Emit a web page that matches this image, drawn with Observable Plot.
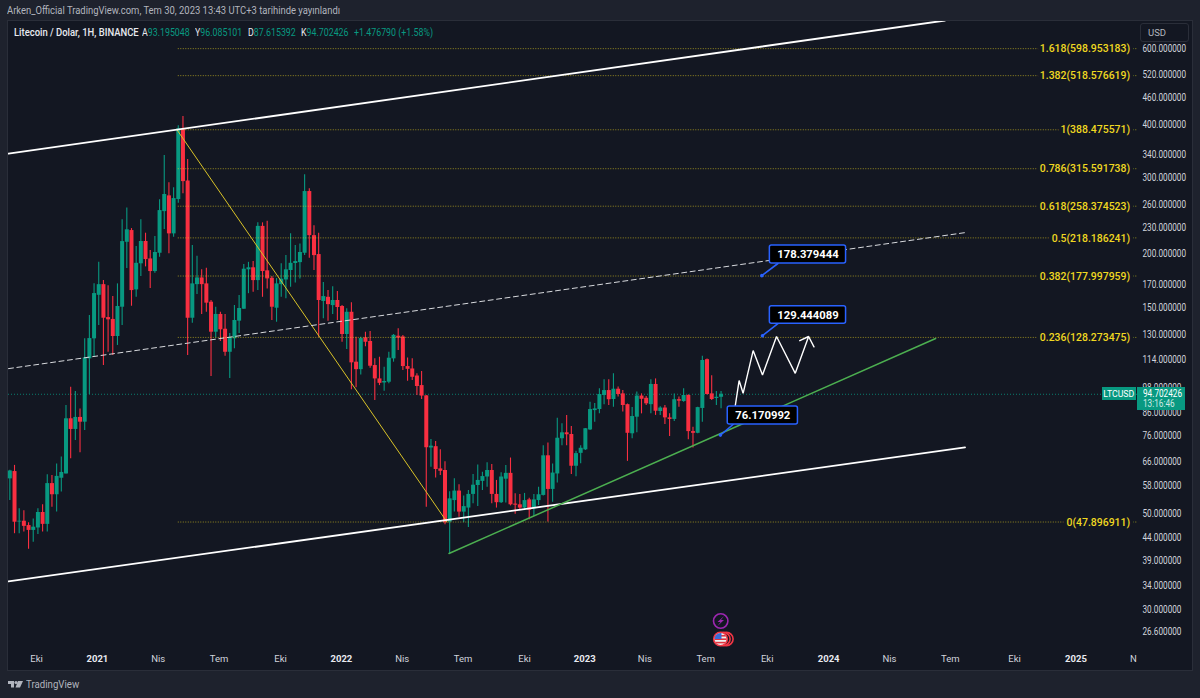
<!DOCTYPE html>
<html><head><meta charset="utf-8">
<script src="https://cdn.jsdelivr.net/npm/d3@7"></script>
<script src="https://cdn.jsdelivr.net/npm/@observablehq/plot@0.6"></script>
<style>
html,body{margin:0;padding:0;background:#1e222d;width:1200px;height:698px;overflow:hidden;font-family:Roboto,"Liberation Sans",sans-serif}
.abs{position:absolute;white-space:nowrap}
.sq{transform-origin:0 50%;transform:scaleX(.84)}
#pane{left:8px;top:21px;width:1184px;height:649px;background:#131722;box-shadow:0 0 0 1px #2a2e39}
#chart{left:0;top:0}
#chart svg{display:block;background:transparent}
.teal{color:#089981}
</style></head><body>
<div id="pane" class="abs"></div>
<div id="chart" class="abs"></div>
<div id="hdr" class="abs" style="left:7px;top:5px;font-size:10px;color:#b2b5be;transform-origin:0 50%;transform:scaleX(.944)">Arken_Official TradingView.com, Tem 30, 2023 13:43 UTC+3 tarihinde yayınlandı</div>
<div class="abs" style="left:14px;top:26px;font-size:10.5px;color:#e8eaf0;font-weight:500;transform-origin:0 50%;transform:scaleX(.9)">Litecoin / Dolar, 1H, BINANCE</div>
<div class="abs sq" style="left:142px;top:26px;font-size:10.5px;color:#e8eaf0">A<span class="teal">93.195048</span></div>
<div class="abs sq" style="left:195px;top:26px;font-size:10.5px;color:#e8eaf0">Y<span class="teal">96.085101</span></div>
<div class="abs sq" style="left:248px;top:26px;font-size:10.5px;color:#e8eaf0">D<span class="teal">87.615392</span></div>
<div class="abs sq" style="left:301px;top:26px;font-size:10.5px;color:#e8eaf0">K<span class="teal">94.702426</span></div>
<div class="abs sq teal" style="left:354px;top:26px;font-size:10.5px">+1.476790 (+1.58%)</div>
<div class="abs" style="left:1140px;top:23px;width:47px;height:17px;border:1px solid #2a2e39;border-radius:3px;font-size:9.5px;line-height:17px;color:#b2b5be;text-indent:7px">USD</div>
<svg class="abs" style="left:0;top:0;pointer-events:none" width="1200" height="698">
  <polygon points="8,681 14,681 14,687.5 11,687.5 11,684 8,684" fill="#b2b5be"/>
  <circle cx="16" cy="682.5" r="1.6" fill="#b2b5be"/>
  <polygon points="18,681 23,681 20,687.5 15.5,687.5" fill="#b2b5be"/>
  <circle cx="720.7" cy="621" r="7.2" fill="#131722" stroke="#9c27b0" stroke-width="1.6"/>
  <polygon points="724,616 717.5,622 720.5,622 717.5,626 724,620 721,620" fill="#9c27b0"/>
  <circle cx="726.5" cy="639" r="6.6" fill="#131722" stroke="#f23645" stroke-width="1.6"/>
  <circle cx="723.5" cy="639" r="6.6" fill="#131722" stroke="#f23645" stroke-width="1.6"/>
  <clipPath id="fc"><circle cx="720.5" cy="639" r="6"/></clipPath>
  <circle cx="720.5" cy="639" r="6.8" fill="#f0f0f0" stroke="#f23645" stroke-width="1.6"/>
  <g clip-path="url(#fc)">
    <rect x="714" y="635" width="13" height="1.6" fill="#e0353f"/>
    <rect x="714" y="638.4" width="13" height="1.6" fill="#e0353f"/>
    <rect x="714" y="641.8" width="13" height="1.6" fill="#e0353f"/>
    <rect x="714" y="632" width="7.5" height="7" fill="#3b6bd6"/>
  </g>
</svg>
<div class="abs" style="left:25.5px;top:677px;font-size:11.5px;color:#b2b5be;transform-origin:0 50%;transform:scaleX(.84)">TradingView</div>
<script>
const opens=[60.3,62.7,47.9,48.1,47.0,45.8,46.4,50.4,47.3,58.8,55.4,60.5,61.9,83.1,78.5,83.7,81.6,114.4,127.3,160.6,
170,142.6,141.2,128.9,150.7,213.1,226.9,165.3,190,214,195,182.3,201,251,273,222.9,267.7,388.8,295.7,142.1,
170,176.2,170.7,154.8,131.9,145,134,118.5,127.3,139.9,149.1,184,186,173.7,232,183,175.9,149.9,170,174.3,
183.3,190.3,191.2,201,279.4,220.8,199.6,155.4,158.9,152,156.2,151.3,130.3,146.7,112.4,108,128,125.5,110.4,102.8,
100.6,101,114.4,129.1,128.6,109.8,108.4,104.4,99.2,93.9,71.1,71.6,63.6,63.05,47.85,53.7,56.5,50.5,51.6,55.5,
58.2,59.5,60.9,63.05,55.5,53.1,60.2,62.1,52.7,52.5,51.6,53.9,51.4,53.7,55.2,68.2,57,61.9,74.7,77.1,
76.4,64.5,69.1,70.4,78.3,86.8,87.3,94.1,96.6,92.1,97.3,94.9,89.6,76.7,83.8,93.8,92.7,89.6,99.8,86.4,
88,83.5,82.8,92,91.1,94.1,77.6,76.9,87.8,113.9,94.9,92.6,93.195];
const closes=[62.9,47.85,48.1,46.8,45.8,46.6,50.4,47.3,58.8,55.4,61.1,62.4,83.1,78.5,83.7,81.6,115,127.5,162.1,170,
142.1,140.9,128.9,151.3,213.9,227.8,164.7,190.5,214,194.3,182.3,201.8,252.4,275,222.9,269.1,390.4,294.6,142.1,170.7,
176.2,170,154,131.9,145,133.6,118.5,128,140.4,149.7,184.6,186,173.7,232,182.3,175.3,150.7,170.7,175,184,
190.5,192.3,201.8,279.4,220.8,198.5,156.2,159.5,152.8,156.2,150.5,130.3,146.7,112,108,127.5,125,110,102.8,100.4,
101.4,114.8,129.7,127.8,109.8,108.2,103.7,98.7,93.8,71.2,71.8,63.4,62.8,47.7,54.2,56.5,50.5,52,55.5,58.3,
59.8,61.05,63.05,55.5,53.1,60.9,62.1,52.5,52.4,51.6,53.7,51,53.9,55.4,68.2,57,62.2,74.9,77.1,76.3,
64.5,69,71,78.8,87.3,87.6,94.6,96.6,92,97.3,94.6,89.2,76.9,84.1,93.8,92.2,90,99.8,86.5,88,
83.5,82.8,92,91.3,94.1,77.6,76.9,88.2,113.4,94.6,92.1,93.2,94.702];
const highs=[63.1,64.8,51.4,50.9,47.7,48.7,51.4,52.5,61.6,61.4,65.3,67.8,89.2,98.3,96.1,87.6,127.3,144.2,170.7,191.5,
173.7,169.1,159.5,170.7,240.2,256,229.3,208.4,240.2,223.7,203.9,219.7,267.3,338.5,293,285,397,417,331.4,209.5,
197.8,184,185.5,156.2,150.7,146.7,145,131,152,160.4,189.2,191.5,192.3,236.4,236.4,238.4,177.5,175.6,190,198.5,
222.9,209.5,211.3,305.5,283.5,232.9,223.7,171.9,164.7,168.2,163.9,152,149.4,154.3,128.4,128.4,131.9,132.4,114.4,115.4,
109.4,118.5,130.3,134.3,129.6,115,114.4,105.6,106.9,94.1,74.4,73.6,70.4,66.1,56.3,60.3,58.4,55,56.7,61.7,
64.9,62.5,65.7,65.1,59.8,62.3,64.8,67.4,55.7,55.5,55.8,54.4,55.5,57.7,72,73,65.3,83.3,80.9,84.6,
79.7,69.9,72,78.9,90.8,90.1,97.5,102.3,102.3,105.6,98.4,96.6,89.9,88.2,95.8,94.9,93.6,102.3,102.8,88.6,
89.2,85.3,94.9,93.3,97.5,94.5,79.4,88.4,116,114.3,104.6,96.1,96.085];
const lows=[53.7,45.0,45.0,45.4,41.4,43.0,44.8,45.4,45.4,51.8,50.5,56.2,61.9,67.1,74.0,69.3,78.05,94.6,115.4,136.7,
110.4,118.5,116.5,122.9,136.7,185.3,151.5,158.9,177.5,186.9,166.5,180.7,196.7,228.1,200.4,218.9,262.5,276,116.5,138.3,
161.2,145,146.7,104.1,127.8,125.5,116,103,120.7,131,149,162,163.2,164.7,158.9,166.2,140.4,139.1,158.9,157.6,
167.6,171.6,175.3,198.5,195.7,183.3,128.4,141.7,139.9,145,140.4,125,120.3,97,98.1,104.9,122,108.8,91.6,99.2,
96.3,100.2,112.4,119.6,107.5,101.5,101.9,94.1,92.1,51.8,64.2,60.6,61.4,47.2,40.5,50.5,49.1,47.7,46.5,52.8,
52,56.7,57.7,52.8,51.6,52.9,53,52.2,49.9,50.9,50.9,48.5,49.3,52.3,55,47.9,53.2,59,72,72,
61.7,61,65.4,70.15,78.05,81.6,85.3,89.6,89.2,88.4,93.3,86.1,66.2,74.7,77.1,85.3,89.2,85.3,84.6,84.6,
80.6,75.6,81.9,88.4,90.8,74.3,71.1,76.7,81.6,94.3,91.6,89.2,87.615];

const fibRatios=["1.618","1.382","1","0.786","0.618","0.5","0.382","0.236","0"];
const fibValues=[598.953183,518.576619,388.475571,315.591738,258.374523,218.186241,177.997959,128.273475,47.896911];

const priceTicks=[600,520,460,400,340,300,260,230,200,170,150,130,114,98,86,76,66,58,50,44,39,34,30,26.6];
const monthDates=["2020-10-03","2021-04-03","2021-07-03","2021-10-03","2022-04-03","2022-07-03","2022-10-03","2023-04-01","2023-07-01","2023-10-01","2024-04-01","2024-07-01","2024-10-05","2025-04-01"];
const monthLabels=["Eki","Nis","Tem","Eki","Nis","Tem","Eki","Nis","Tem","Eki","Nis","Tem","Eki","N"];
const yearDates=["2021-01-02","2022-01-02","2023-01-01","2024-01-01","2025-01-05"];
const yearLabels=["2021","2022","2023","2024","2025"];

const upperDates=["2020-08-22","2024-06-23"], upperPrices=[342,696];
const lowerDates=["2020-08-22","2024-07-23"], lowerPrices=[34.9,71.3];
const midDates=["2020-08-22","2024-07-24"], midPrices=[108.6,224.5];
const fibTrendDates=["2021-05-01","2022-06-09"], fibTrendPrices=[388.475571,47.896911];
const greenDates=["2022-06-12","2024-06-09"], greenPrices=[40.5,127.5];
const pathDates=["2023-08-13","2023-08-20","2023-08-26","2023-09-10","2023-09-24","2023-10-15","2023-11-12","2023-12-02","2023-11-18","2023-12-02","2023-12-10"];
const pathPrices=[86.5,101.9,95.2,119.6,105,128.9,105.9,128.9,125.9,128.9,122];

const calloutLabels=["178.379444","129.444089","76.170992"];
const calloutValues=[178.379444,129.444089,76.170992];
const calloutTipDates=["2023-09-23","2023-09-24","2023-07-23"];
const calloutBaseDates=["2023-10-17","2023-10-17","2023-08-11"];
const calloutBasePrices=[190.3,138,80.6];
const calloutX1=["2023-10-05","2023-10-05","2023-08-03"];
const calloutX2=["2024-01-27","2024-01-27","2023-11-16"];
const calloutHigh=[209.4,151.5,88.7];
const calloutLow=[190.3,138,80.6];

const lastPrice=94.702426, lastLabel="94.702426", countdown="13:16:46";
const d=s=>new Date(s);
const pts=(ds,ps)=>ds.map((s,i)=>({date:d(s),price:ps[i]}));

const weeks=d3.utcMonday.range(d("2020-08-24"),d("2023-07-25"));
const candles=weeks.map((w,i)=>({date:w,o:opens[i],h:highs[i],l:lows[i],c:closes[i]}));
const UP="#089981",DOWN="#f92f41",PANE="#131722",YEL="#f0d821";
const col=c=>c.c>=c.o?UP:DOWN;
const fib=fibRatios.map((r,i)=>({label:`${r}(${fibValues[i].toFixed(6)})`,v:fibValues[i]}));
const callouts=calloutLabels.map((l,i)=>({label:l,x1:d(calloutX1[i]),x2:d(calloutX2[i]),hi:calloutHigh[i],lo:calloutLow[i],
  mx:new Date((+d(calloutX1[i])+ +d(calloutX2[i]))/2),my:Math.sqrt(calloutHigh[i]*calloutLow[i]),
  tip:d(calloutTipDates[i]),v:calloutValues[i],bx:d(calloutBaseDates[i]),by:calloutBasePrices[i]}));
const tails=callouts.flatMap((c,i)=>[{k:i,date:c.tip,price:c.v},{k:i,date:c.bx,price:c.by}]);

const chart=Plot.plot({
  width:1200,height:698,marginLeft:8,marginRight:61,marginTop:21,marginBottom:48,
  style:{background:"transparent",fontFamily:"Roboto,'Liberation Sans',sans-serif"},
  x:{type:"utc",domain:[d("2020-08-22"),d("2025-04-10")]},
  y:{type:"log",domain:[24.13,692.3]},
  marks:[
    Plot.ruleY([lastPrice],{x1:d("2020-08-22"),x2:d("2025-04-10"),stroke:UP,strokeWidth:1,strokeDasharray:"1 2",strokeOpacity:.8}),
    Plot.ruleX(candles,{x:"date",y1:"l",y2:"h",stroke:col,strokeWidth:1.1}),
    Plot.ruleX(candles,{x:"date",y1:"o",y2:"c",stroke:col,strokeWidth:4}),
    Plot.ruleY(fib,{y:"v",x1:d("2021-05-03"),x2:d("2025-04-07"),stroke:YEL,strokeOpacity:.6,strokeWidth:1,strokeDasharray:"1 1.5"}),
    Plot.line(pts(fibTrendDates,fibTrendPrices),{x:"date",y:"price",stroke:"#d8c228",strokeWidth:1}),
    Plot.line(pts(upperDates,upperPrices),{x:"date",y:"price",stroke:"#fff",strokeWidth:1.8,clip:"frame"}),
    Plot.line(pts(lowerDates,lowerPrices),{x:"date",y:"price",stroke:"#fff",strokeWidth:1.8,clip:"frame"}),
    Plot.line(pts(midDates,midPrices),{x:"date",y:"price",stroke:"#d8dade",strokeWidth:1,strokeDasharray:"5 3.5",clip:"frame"}),
    Plot.line(pts(greenDates,greenPrices),{x:"date",y:"price",stroke:"#4caf50",strokeWidth:1.5}),
    Plot.line(pts(pathDates,pathPrices),{x:"date",y:"price",stroke:"#fff",strokeWidth:1.4,strokeLinejoin:"miter"}),
    Plot.text(fib,{x:d("2025-03-27"),y:"v",text:"label",textAnchor:"end",fill:YEL,stroke:PANE,strokeWidth:8,fontSize:11.5,fontWeight:500}),
    Plot.line(tails,{x:"date",y:"price",z:"k",stroke:"#2962ff",strokeWidth:1.6}),
    Plot.dot(callouts,{x:"tip",y:"v",r:1.8,fill:"#2962ff"}),
    Plot.rect(callouts,{x1:"x1",x2:"x2",y1:"lo",y2:"hi",fill:"#000",stroke:"#2962ff",strokeWidth:1.5,r:2}),
    Plot.text(callouts,{x:"mx",y:"my",text:"label",fill:"#fff",fontSize:11.5,fontWeight:700}),
    Plot.axisX(monthDates.map(d),{anchor:"bottom",tickSize:0,tickPadding:5,fontSize:9.5,fill:"#d1d4dc",
      tickFormat:v=>monthLabels[monthDates.map(d).findIndex(m=>+m===+v)],label:null}),
    Plot.axisX(yearDates.map(d),{anchor:"bottom",tickSize:0,tickPadding:5,fontSize:9.5,fontWeight:700,fill:"#e8eaf0",
      tickFormat:v=>yearLabels[yearDates.map(d).findIndex(m=>+m===+v)],label:null}),
    Plot.axisY(priceTicks,{anchor:"right",tickSize:0,tickPadding:3,fontSize:10,fill:"#d1d4dc",tickFormat:v=>v.toFixed(6),label:null})
  ]
});
document.getElementById("chart").appendChild(chart);

const squeeze=(g,k)=>g.querySelectorAll("text").forEach(t=>t.setAttribute("transform",(t.getAttribute("transform")||"")+` scale(${k},1)`));
const textGroups=chart.querySelectorAll('g[aria-label="text"]');
squeeze(chart.querySelector('g[aria-label="y-axis tick label"]'),.82);
squeeze(textGroups[0],.91);
squeeze(textGroups[1],.98);

const yp=chart.scale("y").apply(lastPrice);
const tag=(html,css)=>{const e=document.createElement("div");e.className="abs";e.style.cssText=css;e.innerHTML=html;document.body.appendChild(e);};
tag(`<span style="display:inline-block;transform:scaleX(.92)">LTCUSD</span>`,`left:1101.5px;top:${yp-6.5}px;width:34.5px;height:13px;line-height:13px;background:${UP};color:#fff;font-size:9.5px;text-align:center`);
tag(`<div style="height:12px;line-height:13px;color:#fff;margin-left:6px;transform-origin:0 50%;transform:scaleX(.82)">${lastLabel}</div><div style="height:10px;line-height:10px;color:#cfe9e4;margin-left:6px;transform-origin:0 50%;transform:scaleX(.82)">${countdown}</div>`,
 `left:1137px;top:${yp-6.5}px;width:48px;height:23px;background:${UP};font-size:10px`);
</script>
</body></html>
